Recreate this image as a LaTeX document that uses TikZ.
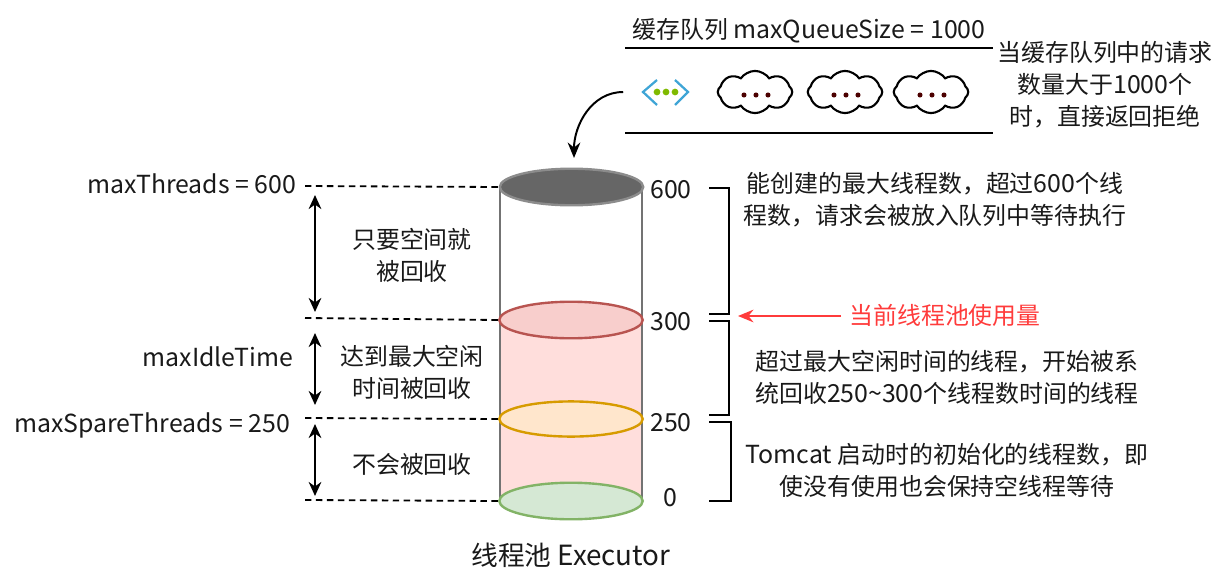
\documentclass[tikz,border=0pt]{standalone}
\usepackage{fontspec}
\setmainfont{Noto Sans CJK SC}
\newfontfamily\latn[Scale=1.04]{Noto Sans CJK SC}
\newcommand{\lt}[1]{{\latn #1}}
\usetikzlibrary{shapes.geometric, shapes.symbols, arrows.meta}

\definecolor{redfill}{HTML}{F8CECC}
\definecolor{redline}{HTML}{B85450}
\definecolor{bodyfill}{HTML}{FFDEDC}
\definecolor{orangefill}{HTML}{FFE6CC}
\definecolor{orangeline}{HTML}{D79B00}
\definecolor{greenfill}{HTML}{D5E8D4}
\definecolor{greenline}{HTML}{82B366}
\definecolor{alertred}{HTML}{FF3B3B}
\definecolor{iconblue}{HTML}{3FA5D6}
\definecolor{icongreen}{HTML}{7FBA00}

\tikzset{
  label/.style={inner sep=0, align=center, text=black!90, font=\fontsize{17}{22.8}\selectfont},
  level/.style={dashed, dash pattern=on 4.6pt off 3.2pt, line width=1.3pt},
  span/.style={<->, >={Stealth[length=10pt,width=9pt]}, line width=1.4pt},
  bracket/.style={line width=1.5pt},
  queueline/.style={line width=1.7pt},
  request/.style={draw, shape=cloud, cloud puffs=8, cloud puff arc=110, aspect=1.9,
    minimum width=53pt, minimum height=30pt, inner sep=0, line width=1.5pt},
  slice/.style={shape=ellipse, line width=1.7pt, minimum width=102pt, minimum height=26pt, inner sep=0}
}

\begin{document}
\begin{tikzpicture}[x=0.025cm,y=-0.025cm]
  \useasboundingbox (0,0) rectangle (1228,578);
  % queue
  \node[label] (title) at (809,31) {缓存队列 \lt{maxQueueSize = 1000}};
  \coordinate (qtopl) at (625,48);
  \coordinate (qtopr) at (993,48);
  \coordinate (qbotl) at (625,133);
  \coordinate (qbotr) at (993,133);
  \draw[queueline] (qtopl) -- (qtopr);
  \draw[queueline] (qbotl) -- (qbotr);
  \node[label] (reject) at (1105,85) {当缓存队列中的请求\\数量大于\lt{1000}个\\时，直接返回拒绝};
  \node[minimum width=32pt, minimum height=18pt, inner sep=0] (icon) at (666,92) {};
  \draw[line width=1.6pt, color=iconblue] (657,80) -- (643,92) -- (657,105);
  \draw[line width=1.6pt, color=iconblue] (675,80) -- (688,92) -- (675,105);
  \foreach \dx in {657,666,675}
    \fill[color=icongreen] (\dx,92) circle (2.4pt);
  \foreach \cname/\cx in {reqa/755, reqb/845, reqc/931} {
    \node[request] (\cname) at (\cx,92) {};
    \foreach \dx in {-12,0,12}
      \fill[color=red!30!black] (\cx+\dx+1,95) circle (1.8pt);
  }
  % cylinder
  \coordinate (toparrow) at (574,158);
  \draw[->, >={Stealth[length=11pt,width=9pt]}, line width=1.4pt] (icon.west) ++(-20,0) to[out=180,in=90] (toparrow);
  \fill[bodyfill] (500,319) rectangle (642,501);
  \draw[color=black!55, line width=1.7pt] (500,187) -- (500,501);
  \draw[color=black!55, line width=1.7pt] (642,187) -- (642,501);
  \node[slice, draw=black!45, fill=black!60] (top) at (571.5,187) {};
  \node[slice, draw=redline, fill=redfill] (used) at (571,320) {};
  \node[slice, draw=orangeline, fill=orangefill, minimum height=25pt] (spare) at (571,419) {};
  \node[slice, draw=greenline, fill=greenfill] (empty) at (571,501) {};
  \node[label, font=\fontsize{19}{24}\selectfont] (pool) at (571,555) {线程池 \lt{Executor}};
  % left side
  \node[label] (maxthreads) at (192,184) {\lt{maxThreads = 600}};
  \node[label] (maxidle) at (218,357) {\lt{maxIdleTime}};
  \node[label] (maxspare) at (152,425) {\lt{maxSpareThreads = 250}};
  \coordinate (la) at (305,186);
  \coordinate (lb) at (305,318);
  \coordinate (lc) at (305,418);
  \coordinate (ld) at (305,500);
  \draw[level] (la) -- (top.west);
  \draw[level] (lb) -- (used.west);
  \draw[level] (lc) -- (spare.west);
  \draw[level] (ld) -- (empty.west);
  \coordinate (sa) at (315,195);
  \coordinate (sb) at (315,312);
  \coordinate (sc) at (315,333);
  \coordinate (sd) at (315,405);
  \coordinate (se) at (315,424);
  \coordinate (sf) at (315,496);
  \draw[span] (sa) -- (sb);
  \draw[span] (sc) -- (sd);
  \draw[span] (se) -- (sf);
  \node[label] (rangea) at (412,255) {只要空间就\\被回收};
  \node[label] (rangeb) at (412,372) {达到最大空闲\\时间被回收};
  \node[label] (rangec) at (412,464) {不会被回收};
  % right side
  \node[label] (n600) at (671,190) {\lt{600}};
  \node[label] (n300) at (671,322) {\lt{300}};
  \node[label] (n250) at (671,423) {\lt{250}};
  \node[label] (n0) at (670,498) {\lt{0}};
  \draw[bracket] (709,188) -- (729,188) -- (729,314) -- (709,314);
  \draw[bracket] (709,321) -- (729,321) -- (729,415) -- (709,415);
  \draw[bracket] (709,422) -- (731,422) -- (731,501) -- (709,501);
  \node[label, text=alertred] (current) at (945,315) {当前线程池使用量};
  \coordinate (usedmark) at (738,316);
  \draw[->, >={Stealth[length=11pt,width=9pt]}, color=alertred, line width=1.2pt] (current.west) ++(-8,1) -- (usedmark);
  \node[label] (notea) at (935,200) {能创建的最大线程数，超过\lt{600}个线\\程数，请求会被放入队列中等待执行};
  \node[label] (noteb) at (947,377) {超过最大空闲时间的线程，开始被系\\统回收\lt{250\textasciitilde 300}个线程数时间的线程};
  \node[label] (notec) at (947,470) {\lt{Tomcat} 启动时的初始化的线程数，即\\使没有使用也会保持空线程等待};
\end{tikzpicture}
\end{document}
